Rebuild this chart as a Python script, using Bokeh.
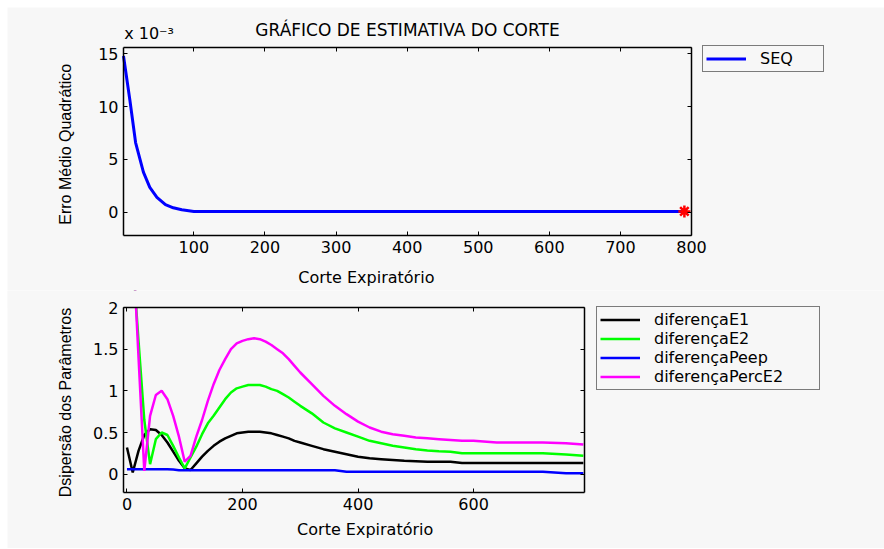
import math

from bokeh.plotting import figure
from bokeh.layouts import column
from bokeh.models import (Label, LinearAxis, FixedTicker, Range1d,
                          CustomJSTickFormatter, BoxAnnotation)
from bokeh.embed import file_html
from bokeh.resources import INLINE

BG = "#f7f7f7"
FONT = "DejaVu Sans"
FONT_V = "Liberation Sans"

# Upper panel: mean squared error for each expiratory cut (units of 1e-3)
seq_corte = [1, 10, 18, 29, 38, 48, 60, 71, 83, 100, 790]
seq_erro_e3 = [14.8, 10.6, 6.6, 3.8, 2.35, 1.42, 0.72, 0.42, 0.23, 0.08, 0.08]
corte_escolhido = [790]
erro_escolhido_e3 = [0.08]

# Lower panel: parameter dispersion for each expiratory cut
corte = [0, 10, 20, 30, 40, 50, 60, 70, 80, 90, 100, 110, 120, 130, 140, 150,
         160, 170, 180, 190, 200, 210, 220, 230, 240, 250, 260, 270, 280, 290,
         300, 320, 340, 360, 380, 400, 420, 440, 460, 480, 500, 520, 540, 560,
         580, 600, 640, 680, 720, 760, 790]
dif_e1 = [0.32, 0.02, 0.28, 0.47, 0.54, 0.53, 0.47, 0.38, 0.27, 0.16, 0.07,
          0.05, 0.13, 0.21, 0.28, 0.34, 0.39, 0.43, 0.46, 0.49, 0.50, 0.51,
          0.51, 0.51, 0.50, 0.49, 0.47, 0.45, 0.43, 0.40, 0.38, 0.34, 0.30,
          0.27, 0.24, 0.21, 0.19, 0.18, 0.17, 0.16, 0.155, 0.15, 0.15, 0.15,
          0.135, 0.135, 0.135, 0.135, 0.135, 0.135, 0.135]
dif_e2 = [3.5, 2.6, 1.6, 0.65, 0.12, 0.42, 0.50, 0.47, 0.34, 0.20, 0.07,
          0.20, 0.33, 0.48, 0.61, 0.70, 0.80, 0.90, 0.98, 1.03, 1.05, 1.07,
          1.07, 1.07, 1.05, 1.02, 1.00, 0.96, 0.92, 0.87, 0.82, 0.73, 0.62,
          0.55, 0.50, 0.45, 0.40, 0.37, 0.34, 0.32, 0.30, 0.285, 0.275, 0.27,
          0.25, 0.25, 0.25, 0.25, 0.25, 0.236, 0.22]
dif_peep = [0.06, 0.06, 0.06, 0.06, 0.06, 0.06, 0.06, 0.06, 0.055, 0.048,
            0.048, 0.048, 0.048, 0.048, 0.048, 0.048, 0.048, 0.048, 0.048,
            0.048, 0.048, 0.048, 0.048, 0.048, 0.048, 0.048, 0.048, 0.048,
            0.048, 0.048, 0.048, 0.048, 0.048, 0.048, 0.028, 0.028, 0.028,
            0.028, 0.028, 0.028, 0.028, 0.028, 0.028, 0.028, 0.028, 0.028,
            0.028, 0.028, 0.028, 0.012, 0.012]
dif_perc_e2 = [4.5, 2.8, 1.4, 0.04, 0.70, 0.95, 1.00, 0.90, 0.70, 0.45, 0.15,
               0.22, 0.45, 0.65, 0.88, 1.08, 1.25, 1.38, 1.50, 1.57, 1.60,
               1.62, 1.63, 1.62, 1.59, 1.55, 1.50, 1.45, 1.38, 1.30, 1.22,
               1.08, 0.94, 0.82, 0.72, 0.63, 0.56, 0.51, 0.48, 0.46, 0.44,
               0.43, 0.42, 0.41, 0.40, 0.40, 0.38, 0.38, 0.38, 0.37, 0.355]

ticks_top_x = [100, 200, 300, 400, 500, 600, 700, 800]
ticks_top_y = [0, 5, 10, 15]
ticks_bot_x = [0, 200, 400, 600]
ticks_bot_y = [0, 0.5, 1, 1.5, 2]

# axis limits of the two boxed plot areas
top_xlim, top_ylim = (1, 800), (-2.2, 15.6)
bot_xlim, bot_ylim = (-6, 792), (-0.22, 2)

BLANK = CustomJSTickFormatter(code="return ''")


def padded(lim, box_px, before_px, after_px):
    """Stretch an axis limit so the box keeps box_px pixels inside a larger frame."""
    upp = (lim[1] - lim[0]) / box_px
    return lim[0] - before_px * upp, lim[1] + after_px * upp


def style_axis(ax, ticks, bounds, show_labels=True, fixed=None):
    ax.ticker = FixedTicker(ticks=ticks)
    ax.bounds = bounds
    if fixed is not None:
        ax.fixed_location = fixed
    ax.major_tick_in = 4
    ax.major_tick_out = 0
    ax.minor_tick_in = 0
    ax.minor_tick_out = 0
    ax.axis_line_color = "black"
    ax.axis_line_width = 1.5
    ax.major_tick_line_color = "black"
    ax.major_tick_line_width = 1
    ax.major_label_text_font = FONT
    ax.major_label_text_color = "black"
    ax.major_label_standoff = 5
    ax.major_label_text_font_size = "16px"
    if not show_labels:
        ax.formatter = BLANK
        ax.major_label_standoff = 0


def make_panel(xlim, ylim, xr, yr, fh, xt, yt):
    p = figure(x_range=Range1d(*xr), y_range=Range1d(*yr),
               frame_width=877, frame_height=fh,
               min_border_left=0, min_border_right=0,
               min_border_top=0, min_border_bottom=0,
               output_backend="svg", toolbar_location=None)
    p.title = None
    p.background_fill_color = BG
    p.border_fill_color = BG
    p.outline_line_color = None
    p.xgrid.visible = False
    p.ygrid.visible = False
    style_axis(p.xaxis[0], xt, xlim, fixed=ylim[0])
    style_axis(p.yaxis[0], yt, ylim, fixed=xlim[0])
    top_ax = LinearAxis()
    style_axis(top_ax, xt, xlim, show_labels=False, fixed=ylim[1])
    right_ax = LinearAxis()
    style_axis(right_ax, yt, ylim, show_labels=False, fixed=xlim[1])
    p.add_layout(top_ax, "above")
    p.add_layout(right_ax, "right")
    return p


def style_legend(p, loc, label_width):
    lg = p.legend[0]
    lg.location = loc
    lg.padding = 3
    lg.margin = 0
    lg.spacing = 0
    lg.glyph_width = 40
    lg.glyph_height = 19
    lg.label_height = 19
    lg.label_width = label_width
    lg.label_standoff = 14
    lg.label_text_font = FONT
    lg.label_text_font_size = "16px"
    lg.label_text_color = "black"
    lg.background_fill_color = BG
    lg.background_fill_alpha = 1
    lg.border_line_color = "black"
    lg.border_line_width = 1.5


def text_label(p, x, y, text, size="16px", align="center", angle=0,
               font=FONT):
    p.add_layout(Label(x=x, y=y, text=text, text_font=font,
                       text_font_size=size, text_align=align, angle=angle,
                       text_baseline="middle", text_color="black"))


# ---- upper panel: frame 877 x 283, plot box 568 x 188 ----
p1 = make_panel(top_xlim, top_ylim,
                padded(top_xlim, 568, 116, 193), padded(top_ylim, 188, 55, 40),
                283, ticks_top_x, ticks_top_y)
p1.line(seq_corte, seq_erro_e3, line_color="#0000ff", line_width=3,
        legend_label="SEQ")
p1.scatter(corte_escolhido, erro_escolhido_e3, marker="asterisk", size=12,
           line_color="#ff0000", line_width=2.5)
style_legend(p1, (695, 218), 60)

text_label(p1, 400.5, 17.24, "GRÁFICO DE ESTIMATIVA DO CORTE", size="17px")
text_label(p1, 2, 16.95, "x 10⁻³", align="left")
text_label(p1, 342.6, -6.15, "Corte Expiratório")
text_label(p1, -80.6, 6.44, "Erro Médio Quadrático", angle=math.pi / 2,
           font=FONT_V)

# ---- lower panel: frame 877 x 258, plot box 461 x 185 ----
p2 = make_panel(bot_xlim, bot_ylim,
                padded(bot_xlim, 461, 116, 300), padded(bot_ylim, 185, 56, 17),
                258, ticks_bot_x, ticks_bot_y)
curves = [(dif_e1, "black", "diferençaE1"),
          (dif_e2, "#00ff00", "diferençaE2"),
          (dif_peep, "#0000ff", "diferençaPeep"),
          (dif_perc_e2, "#ff00ff", "diferençaPercE2")]
for values, colour, name in curves:
    r = p2.line(corte, values, line_color=colour, line_width=2.5,
                legend_label=name)
    r.level = "underlay"
# curves leaving the box through its upper limit are hidden above it
p2.add_layout(BoxAnnotation(bottom=bot_ylim[1], fill_color=BG, fill_alpha=1,
                            line_color=None, level="underlay"))
style_legend(p2, (589, 158), 162)

text_label(p2, -106.4, 0.86, "Dsipersão dos Parâmetros", angle=math.pi / 2,
           font=FONT_V)
text_label(p2, 412.4, -0.668, "Corte Expiratório")

layout = column(p1, p2, spacing=0, margin=(7, 0, 0, 7))

with open("out.html", "w") as f:
    f.write(file_html(layout, INLINE))
